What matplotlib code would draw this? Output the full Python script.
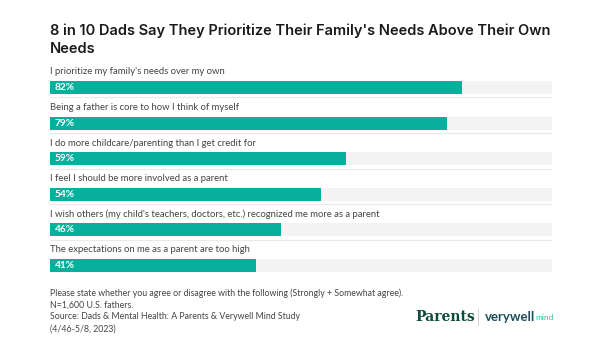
import matplotlib
matplotlib.use("Agg")
import matplotlib.pyplot as plt

categories = [
    "I prioritize my family's needs over my own",
    "Being a father is core to how I think of myself",
    "I do more childcare/parenting than I get credit for",
    "I feel I should be more involved as a parent",
    "I wish others (my child's teachers, doctors, etc.) recognized me more as a parent",
    "The expectations on me as a parent are too high",
]
values = [82, 79, 59, 54, 46, 41]
value_labels = ["82%", "79%", "59%", "54%", "46%", "41%"]

title = "8 in 10 Dads Say They Prioritize Their Family's Needs Above Their Own\nNeeds"
note = "Please state whether you agree or disagree with the following (Strongly + Somewhat agree).\nN=1,600 U.S. fathers."
source = "Source: Dads & Mental Health: A Parents & Verywell Mind Study\n(4/46-5/8, 2023)"

BAR = "#07B09C"
TRACK = "#F3F3F3"
TEXT = "#444444"
FONT = "Lato"

W, H = 600, 351
fig = plt.figure(figsize=(W / 100, H / 100), dpi=100)
fig.patch.set_facecolor("white")

spacing = 35.6
row0 = 87.5
top_lim, bot_lim = -0.95, 5.6
ax_top_px = row0 + top_lim * spacing
ax_bot_px = row0 + bot_lim * spacing
ax = fig.add_axes([50 / W, 1 - ax_bot_px / H, 502 / W, (ax_bot_px - ax_top_px) / H])
ax.set_xlim(0, 100)
ax.set_ylim(bot_lim, top_lim)
ax.axis("off")

ypos = list(range(len(categories)))
ax.barh(ypos, [100] * len(values), height=0.37, color=TRACK, zorder=1)
ax.barh(ypos, values, height=0.37, color=BAR, zorder=2)
for i, (cat, lab) in enumerate(zip(categories, value_labels)):
    ax.text(0, i - 0.44, cat, fontsize=6.8, color=TEXT, va="center", ha="left", family=FONT)
    ax.text(1.0, i, lab, fontsize=7.3, color="white", va="center", ha="left",
            family=FONT, fontweight="bold", zorder=3)
    if i < len(categories) - 1:
        ax.plot([0, 100], [i + 0.28, i + 0.28], color="#EAEAEA", lw=0.8, zorder=1)

fig.text(50 / W, 1 - 23 / H, title, fontsize=10.5, fontweight=600, color="#1a1a1a",
         va="top", ha="left", family="Inter", linespacing=1.45)
fig.text(50 / W, 1 - 288 / H, note, fontsize=6.3, color=TEXT, va="top", ha="left",
         family=FONT, linespacing=1.45)
fig.text(50 / W, 1 - 312 / H, source, fontsize=6.3, color=TEXT, va="top", ha="left",
         family=FONT, linespacing=1.45)

fig.text(415 / W, 1 - 317 / H, "Parents", fontsize=10, fontweight="bold", color="#0E4B3B",
         va="center", ha="left", family="DejaVu Serif")
fig.add_artist(plt.Line2D([478 / W, 478 / W], [1 - 309 / H, 1 - 325 / H], color="#CCCCCC", lw=0.6))
fig.text(485 / W, 1 - 317 / H, "verywell", fontsize=9.5, fontweight="bold", color="#1F4E5A",
         va="center", ha="left", family=FONT)
fig.text(535 / W, 1 - 317.5 / H, "mind", fontsize=6, color="#2EC4A0",
         va="center", ha="left", family=FONT)

fig.savefig("out.png", dpi=100, facecolor="white")
